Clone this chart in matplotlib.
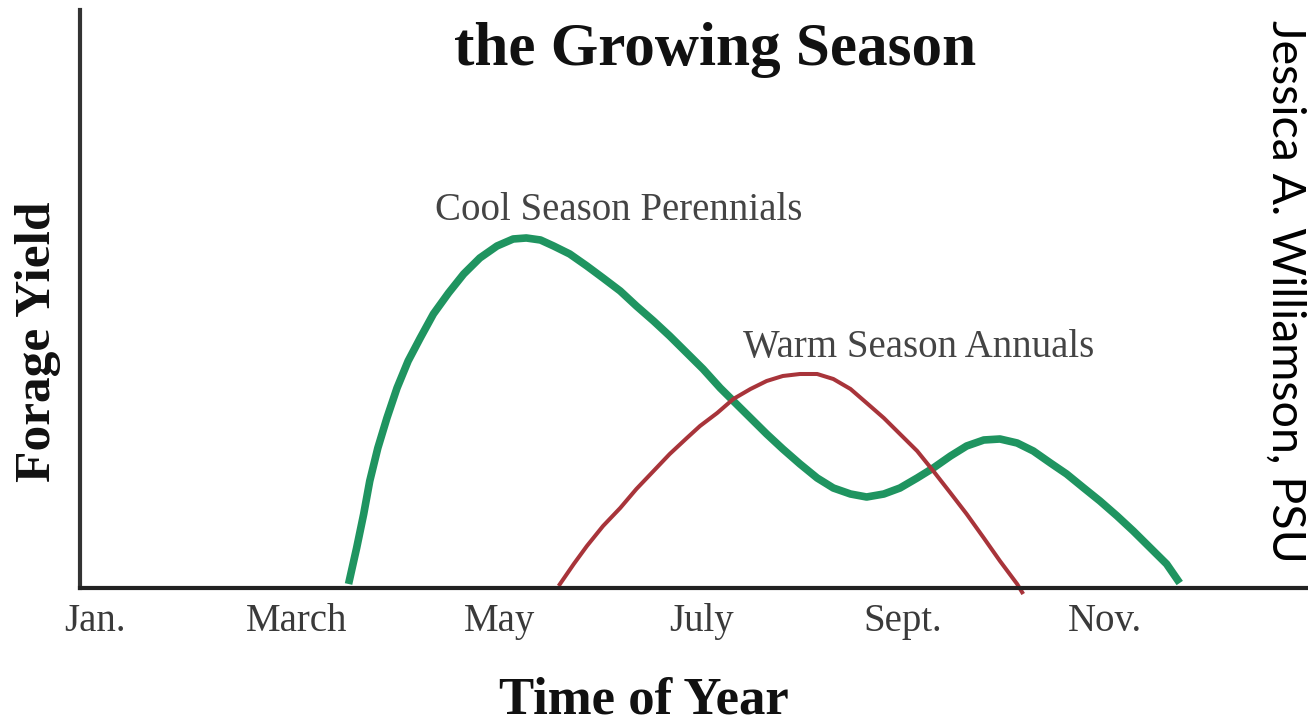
import matplotlib
matplotlib.use("Agg")
import matplotlib.pyplot as plt

plt.rcParams['font.family'] = ['Liberation Serif', 'DejaVu Serif']

# months counted from Jan. = 0
months = [0, 2, 4, 6, 8, 10]
month_labels = ["Jan.", "March", "May", "July", "Sept.", "Nov."]

# cool season perennials
cool_x = [2.51, 2.59, 2.66, 2.72, 2.80, 2.89, 2.99, 3.10, 3.22, 3.35,
          3.50, 3.65, 3.81, 3.98, 4.14, 4.27, 4.41, 4.54, 4.70, 4.87,
          5.03, 5.20, 5.36, 5.53, 5.69, 5.86, 6.02, 6.19, 6.32, 6.49,
          6.65, 6.81, 6.98, 7.15, 7.31, 7.48, 7.64, 7.81, 7.97, 8.14,
          8.30, 8.47, 8.63, 8.80, 8.96, 9.13, 9.29, 9.46, 9.62, 9.79,
          9.95, 10.12, 10.28, 10.45, 10.61, 10.74]
cool_y = [4, 40, 74, 107, 140, 170, 200, 227, 250, 274,
          295, 314, 330, 342, 349, 350, 348, 342, 334, 322,
          310, 297, 282, 267, 252, 235, 219, 200, 187, 170,
          154, 139, 124, 110, 100, 94, 91, 94, 100, 110,
          120, 132, 142, 148, 149, 145, 137, 125, 114, 100,
          87, 72, 57, 40, 24, 5]

# warm season annuals
warm_x = [4.59, 4.74, 4.87, 5.03, 5.20, 5.36, 5.53, 5.69, 5.86, 5.99,
          6.16, 6.32, 6.49, 6.65, 6.81, 6.98, 7.15, 7.31, 7.48, 7.64,
          7.81, 7.97, 8.14, 8.30, 8.47, 8.63, 8.80, 8.96, 9.13, 9.19]
warm_y = [2, 24, 42, 62, 80, 99, 117, 134, 150, 162,
          175, 189, 199, 207, 212, 214, 214, 209, 199, 185,
          170, 154, 137, 117, 95, 74, 50, 27, 4, -6]

fig = plt.figure(figsize=(13.08, 7.28), dpi=100)
ax = fig.add_axes([0.0612, 0.1923, 0.9388, 0.794])

ax.plot(cool_x, cool_y, color="#1f9460", lw=5.5, solid_capstyle="butt",
        solid_joinstyle="round", clip_on=False)
ax.plot(warm_x, warm_y, color="#a8343a", lw=2.9, solid_capstyle="butt",
        solid_joinstyle="round", clip_on=False)

ax.text(3.37, 368, "Cool Season Perennials", fontsize=28, color="#444444", va="baseline")
ax.text(6.42, 231, "Warm Season Annuals", fontsize=28, color="#444444", va="baseline")

ax.set_xlim(-0.1485, 12.01)
ax.set_ylim(0, 578)
ax.set_yticks([])
ax.set_xticks(months, month_labels)
ax.tick_params(axis="x", length=0, pad=31, labelsize=28, labelcolor="#3a3a3a")
for lbl in ax.get_xticklabels():
    lbl.set_va("baseline")

for s in ["top", "right"]:
    ax.spines[s].set_visible(False)
ax.spines["left"].set_linewidth(3)
ax.spines["left"].set_color("#333333")
ax.spines["bottom"].set_linewidth(3)
ax.spines["bottom"].set_color("#222222")

fig.text(0.5466, 0.9107, "the Growing Season", fontsize=44, fontweight="bold",
         ha="center", va="baseline", color="#111111")
fig.text(0.4924, 0.0206, "Time of Year", fontsize=38, fontweight="bold",
         ha="center", va="baseline", color="#111111")
fig.text(0.029, 0.530, "Forage Yield", fontsize=37, fontweight="bold",
         rotation=90, ha="center", va="center", color="#111111")
fig.text(0.9825, 0.599, "Jessica A. Williamson, PSU", fontsize=33.5,
         family=["Lato", "DejaVu Sans"], rotation=270, ha="center", va="center",
         color="black")

fig.savefig("out.png", dpi=100)
